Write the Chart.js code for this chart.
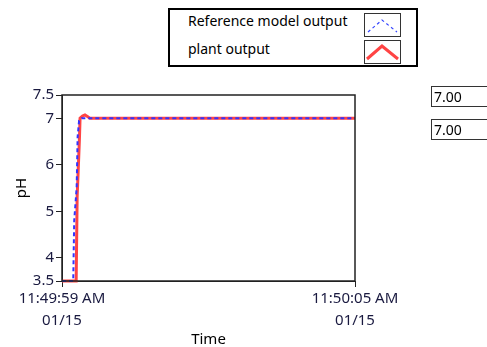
<!DOCTYPE html>
<html>
<head>
<meta charset="utf-8">
<script src="https://cdn.jsdelivr.net/npm/chart.js@4"></script>
<style>
  body { margin: 0; background: #fff; font-family: "Noto Sans", sans-serif; }
  #wrap { position: relative; width: 487px; height: 347px; }
  #myChart { position: absolute; left: 0; top: 0; }
  #legend { position: absolute; left: 168px; top: 8px; width: 246px; height: 55px;
            border: 2px solid #000; background: #fff; font-size: 14px; color: #000; }
  .row { position: absolute; left: 18px; }
  .sw { position: absolute; left: 194px; width: 35px; height: 22px; border: 1px solid #333; background: #fff; }
  .ind { position: absolute; left: 431px; width: 60px; height: 19px; border: 1px solid #333;
         border-right: none; font-size: 14px; line-height: 19px; padding-left: 2px; color: #000; }
</style>
</head>
<body>
<div id="wrap">
  <canvas id="myChart" width="487" height="347"></canvas>
  <div id="legend">
    <div class="row" style="top:1px">Reference model output</div>
    <div class="sw" style="top:3px">
      <svg width="35" height="22"><polyline points="3,18 17,6 32,18" fill="none" stroke="#3344ff" stroke-width="1.2" stroke-dasharray="3,3"/></svg>
    </div>
    <div class="row" style="top:29px">plant output</div>
    <div class="sw" style="top:30px">
      <svg width="35" height="22"><polyline points="2,18 17,5 33,18" fill="none" stroke="#ff4444" stroke-width="3"/></svg>
    </div>
  </div>
  <div class="ind" style="top:86px">7.00</div>
  <div class="ind" style="top:119px">7.00</div>
</div>
<script>
// time in seconds after 11:49:59 AM
var refTime = [0, 0.23, 0.25, 0.30, 0.32, 0.35, 0.40, 6];
var refPH   = [3.5, 3.5, 4.8, 5.5, 6.6, 6.95, 7.0, 7.0];
var plantTime = [0, 0.29, 0.31, 0.355, 0.37, 0.42, 0.47, 0.52, 0.57, 6];
var plantPH   = [3.5, 3.5, 5.3, 6.5, 7.0, 7.05, 7.07, 7.04, 7.0, 7.0];
var xTickLabels = { 0: ['11:49:59 AM', '01/15'], 6: ['11:50:05 AM', '01/15'] };
var yTicks = [3.5, 4, 5, 6, 7, 7.5];

function pts(xs, ys) {
    return xs.map(function (x, i) { return { x: x, y: ys[i] }; });
}

var frame = {
    id: 'frame',
    afterDraw: function (chart) {
        var a = chart.chartArea, c = chart.ctx;
        c.save();
        c.strokeStyle = '#222';
        c.lineWidth = 1.5;
        c.strokeRect(a.left, a.top, a.right - a.left, a.bottom - a.top);
        c.restore();
    }
};

var tickFont = { family: 'Noto Sans', size: 15 };

new Chart(document.getElementById('myChart'), {
    type: 'line',
    data: {
        datasets: [{
            label: 'Reference model output',
            data: pts(refTime, refPH),
            borderColor: '#3333ff',
            borderWidth: 2,
            borderDash: [4, 3],
            pointRadius: 0,
            tension: 0,
            clip: false,
            order: 0
        }, {
            label: 'plant output',
            data: pts(plantTime, plantPH),
            borderColor: '#ff4444',
            borderWidth: 3,
            pointRadius: 0,
            tension: 0,
            clip: false,
            order: 1
        }]
    },
    options: {
        responsive: false,
        animation: false,
        layout: { padding: { left: 0, right: 132, top: 95, bottom: 0 } },
        plugins: { legend: { display: false }, tooltip: { enabled: false } },
        scales: {
            x: {
                type: 'linear',
                min: 0,
                max: 6,
                afterBuildTicks: function (s) { s.ticks = [{ value: 0 }, { value: 6 }]; },
                afterFit: function (s) { s.height = 66; },
                ticks: {
                    color: '#1a1a40',
                    font: { family: 'Noto Sans', size: 15, lineHeight: 1.45 },
                    maxRotation: 0,
                    padding: 1,
                    callback: function (v) { return xTickLabels[v]; }
                },
                grid: { drawOnChartArea: false, tickLength: 6, color: '#222' },
                border: { color: '#222' },
                title: { display: true, text: 'Time', color: '#000', font: { family: 'Noto Sans', size: 15, lineHeight: 1 }, padding: { top: 0, bottom: 0 } }
            },
            y: {
                min: 3.5,
                max: 7.5,
                afterBuildTicks: function (s) { s.ticks = yTicks.map(function (v) { return { value: v }; }); },
                afterFit: function (s) { s.width = 62; },
                ticks: { color: '#1a1a40', font: tickFont, padding: 2 },
                grid: { drawOnChartArea: false, tickLength: 6, color: '#222' },
                border: { color: '#222' },
                title: { display: true, text: 'pH', color: '#000', font: tickFont, padding: { top: 13, bottom: 4 } }
            }
        }
    },
    plugins: [frame]
});
</script>
</body>
</html>
